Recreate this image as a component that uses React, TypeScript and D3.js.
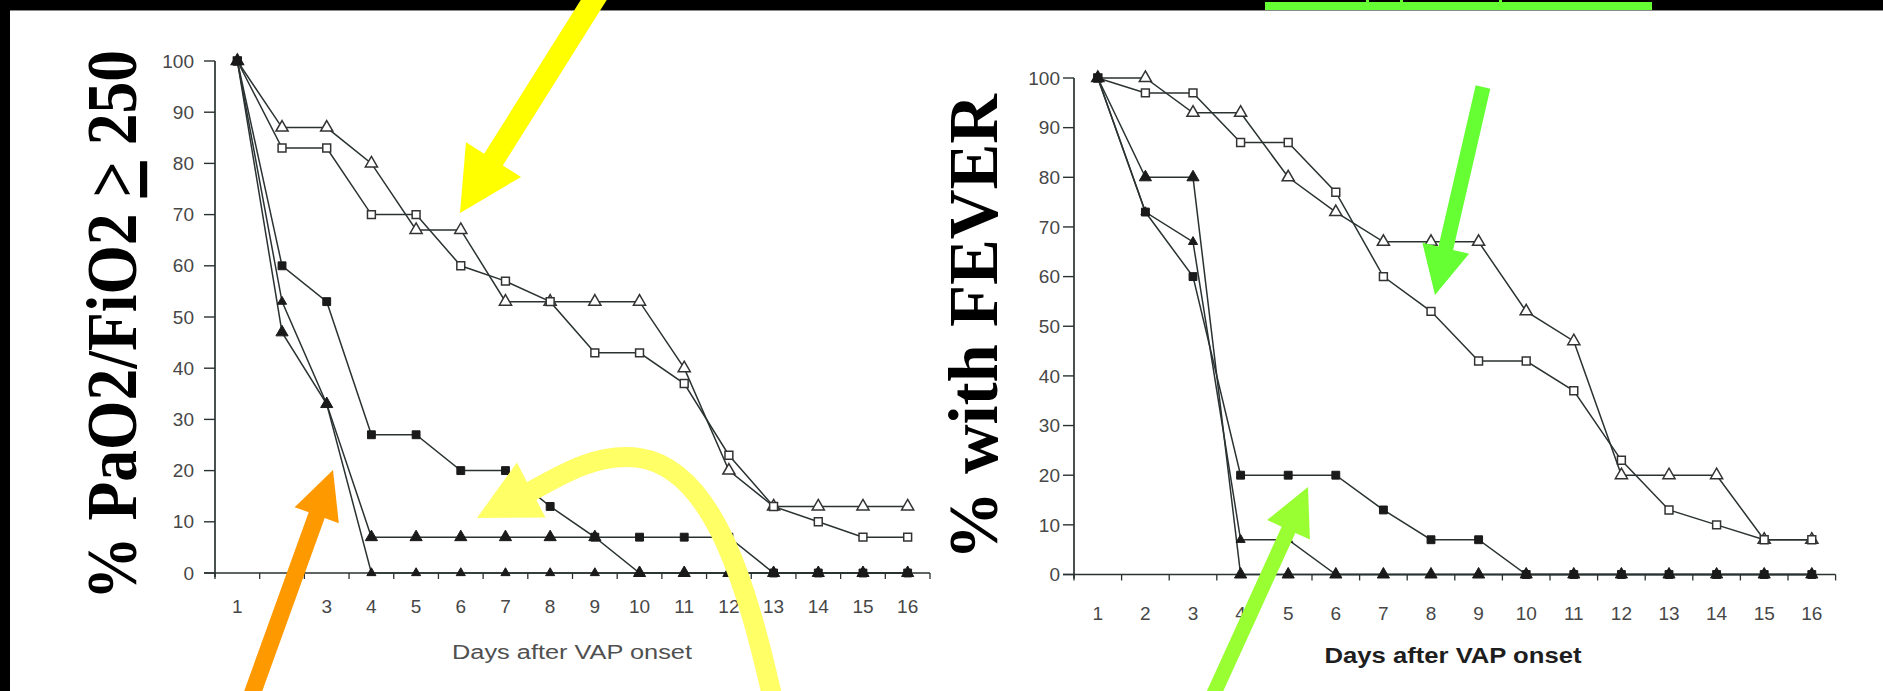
import React from 'react';
import * as d3 from 'd3';

// ---------- data ----------
const DAYS = [1, 2, 3, 4, 5, 6, 7, 8, 9, 10, 11, 12, 13, 14, 15, 16];
const Y_TICKS = [0, 10, 20, 30, 40, 50, 60, 70, 80, 90, 100];
const X_MINOR = [0.5, 1.5, 2.5, 3.5, 4.5, 5.5, 6.5, 7.5, 8.5, 9.5, 10.5, 11.5, 12.5, 13.5, 14.5, 15.5, 16.5];

// Left chart: % PaO2/FiO2 > 250
const pfOpenTriangle = [100, 87, 87, 80, 67, 67, 53, 53, 53, 53, 40, 20, 13, 13, 13, 13];
const pfOpenSquare = [100, 83, 83, 70, 70, 60, 57, 53, 43, 43, 37, 23, 13, 10, 7, 7];
const pfFilledSquare = [100, 60, 53, 27, 27, 20, 20, 13, 7, 7, 7, 7, 0, 0, 0, 0];
const pfFilledTriangle = [100, 47, 33, 7, 7, 7, 7, 7, 7, 0, 0, 0, 0, 0, 0, 0];
const pfFilledSmall = [100, 53, 33, 0, 0, 0, 0, 0, 0, 0, 0, 0, 0, 0, 0, 0];

// Right chart: % with FEVER
const feverOpenTriangle = [100, 100, 93, 93, 80, 73, 67, 67, 67, 53, 47, 20, 20, 20, 7, 7];
const feverOpenSquare = [100, 97, 97, 87, 87, 77, 60, 53, 43, 43, 37, 23, 13, 10, 7, 7];
const feverFilledSquare = [100, 73, 60, 20, 20, 20, 13, 7, 7, 0, 0, 0, 0, 0, 0, 0];
const feverFilledSmall = [100, 73, 67, 7, 7, 0, 0, 0, 0, 0, 0, 0, 0, 0, 0, 0];
const feverFilledTriangle = [100, 80, 80, 0, 0, 0, 0, 0, 0, 0, 0, 0, 0, 0, 0, 0];

const X_TITLE = 'Days after VAP onset';
const LEFT_TITLE_A = '% PaO2/FiO2 ';
const LEFT_TITLE_B = '>';
const LEFT_TITLE_C = ' 250';
const RIGHT_TITLE = '% with FEVER';

type Marker = 'openSquare' | 'openTriangle' | 'filledSquare' | 'filledTriangle' | 'filledSmall';

const leftSeries: { values: number[]; marker: Marker }[] = [
  { values: pfOpenTriangle, marker: 'openTriangle' },
  { values: pfOpenSquare, marker: 'openSquare' },
  { values: pfFilledSquare, marker: 'filledSquare' },
  { values: pfFilledTriangle, marker: 'filledTriangle' },
  { values: pfFilledSmall, marker: 'filledSmall' },
];
const rightSeries: { values: number[]; marker: Marker }[] = [
  { values: feverOpenTriangle, marker: 'openTriangle' },
  { values: feverOpenSquare, marker: 'openSquare' },
  { values: feverFilledSquare, marker: 'filledSquare' },
  { values: feverFilledSmall, marker: 'filledSmall' },
  { values: feverFilledTriangle, marker: 'filledTriangle' },
];

const W = 1883;
const H = 691;
const LINE = '#2a3232';
const TEXT = '#474747';

function symbolPath(m: Marker) {
  switch (m) {
    case 'openSquare':
    case 'filledSquare':
      return d3.symbol().type(d3.symbolSquare).size(62)()!;
    case 'openTriangle':
    case 'filledTriangle':
      return d3.symbol().type(d3.symbolTriangle).size(64)()!;
    default:
      return d3.symbol().type(d3.symbolTriangle).size(36)()!;
  }
}

function arrowPoints(tail: [number, number], tip: [number, number], sw: number, hw: number, hl: number) {
  const dx = tip[0] - tail[0];
  const dy = tip[1] - tail[1];
  const len = Math.hypot(dx, dy);
  const ux = dx / len, uy = dy / len;
  const px = -uy, py = ux;
  const bx = tip[0] - ux * hl, by = tip[1] - uy * hl;
  const pts = [
    [tail[0] + px * sw / 2, tail[1] + py * sw / 2],
    [bx + px * sw / 2, by + py * sw / 2],
    [bx + px * hw / 2, by + py * hw / 2],
    [tip[0], tip[1]],
    [bx - px * hw / 2, by - py * hw / 2],
    [bx - px * sw / 2, by - py * sw / 2],
    [tail[0] - px * sw / 2, tail[1] - py * sw / 2],
  ];
  return pts.map((p) => p.join(',')).join(' ');
}

interface PanelProps {
  series: { values: number[]; marker: Marker }[];
  xRange: [number, number];
  yRange: [number, number];
  yLabelX: number;
  xLabelBaseline: number;
  titleX: number;
  titleY: number;
  titleLen: number;
  titleBold: boolean;
  titleSize: number;
}

function Panel(p: PanelProps) {
  const x = d3.scaleLinear().domain([0.5, 16.5]).range(p.xRange);
  const y = d3.scaleLinear().domain([0, 100]).range(p.yRange);
  const x0 = x(0.5);
  const line = d3
    .line<number>()
    .x((_, i) => x(DAYS[i]))
    .y((v) => y(v));
  return (
    <g>
      {/* axes */}
      <line x1={x0} x2={x0} y1={y(100)} y2={y(0) + 4} stroke={LINE} strokeWidth={1.7} />
      <line x1={x0 - 11} x2={x(16.5)} y1={y(0)} y2={y(0)} stroke={LINE} strokeWidth={1.7} />
      {Y_TICKS.map((t) => (
        <g key={t}>
          <line x1={x0 - 11} x2={x0} y1={y(t)} y2={y(t)} stroke={LINE} strokeWidth={1.4} />
          <text
            x={p.yLabelX}
            y={y(t)}
            dy="0.35em"
            textAnchor="end"
            fontFamily="Liberation Sans, Arial, sans-serif"
            fontSize={19}
            fill={TEXT}
          >
            {t}
          </text>
        </g>
      ))}
      {X_MINOR.map((t) => (
        <line key={t} x1={x(t)} x2={x(t)} y1={y(0)} y2={y(0) + 6} stroke={LINE} strokeWidth={1.3} />
      ))}
      {DAYS.map((d) => (
        <text
          key={d}
          x={x(d)}
          y={p.xLabelBaseline}
          textAnchor="middle"
          fontFamily="Liberation Sans, Arial, sans-serif"
          fontSize={19}
          fill={TEXT}
        >
          {d}
        </text>
      ))}
      <text
        x={p.titleX}
        y={p.titleY}
        textAnchor="middle"
        fontFamily="Liberation Sans, Arial, sans-serif"
        fontSize={p.titleSize}
        fontWeight={p.titleBold ? 'bold' : 'normal'}
        fill={p.titleBold ? '#1e1e1e' : '#505050'}
        textLength={p.titleLen}
        lengthAdjust="spacingAndGlyphs"
      >
        {X_TITLE}
      </text>
      {/* series lines */}
      {p.series.map((s, i) => (
        <path key={'l' + i} d={line(s.values)!} fill="none" stroke={LINE} strokeWidth={1.5} />
      ))}
      {/* markers */}
      {p.series.map((s, i) => (
        <g key={'m' + i}>
          {s.values.map((v, j) => {
            const open = s.marker.startsWith('open');
            return (
              <path
                key={j}
                d={symbolPath(s.marker)}
                transform={`translate(${x(DAYS[j])},${y(v)})`}
                fill={open ? '#ffffff' : '#1a1a1a'}
                stroke={open ? '#333' : '#1a1a1a'}
                strokeWidth={open ? 1.5 : 1}
              />
            );
          })}
        </g>
      ))}
    </g>
  );
}

export default function App() {
  React.useEffect(() => {
    document.body.style.margin = '0';
  }, []);
  return (
    <svg
      width={W}
      height={H}
      viewBox={`0 0 ${W} ${H}`}
      style={{ position: 'absolute', left: 0, top: 0, display: 'block', background: '#fff' }}
    >
      <rect x={0} y={0} width={W} height={H} fill="#ffffff" />
      {/* black frame */}
      <rect x={0} y={0} width={W} height={10} fill="#000" />
      <line x1={0} x2={W} y1={10.5} y2={10.5} stroke="#8a8a8a" strokeWidth={1} />
      <rect x={0} y={0} width={10} height={H} fill="#000" />
      {/* green box fragment at top */}
      <rect x={1265} y={2} width={387} height={8} fill="#66ff33" />
      {[1366, 1400, 1499].map((gx) => (
        <rect key={gx} x={gx} y={0} width={3} height={3} fill="#66ff33" />
      ))}

      <Panel
        series={leftSeries}
        xRange={[215, 930]}
        yRange={[573, 61]}
        yLabelX={194}
        xLabelBaseline={613}
        titleX={572}
        titleY={659}
        titleLen={240}
        titleBold={false}
        titleSize={20}
      />
      <Panel
        series={rightSeries}
        xRange={[1074, 1835.6]}
        yRange={[574.5, 78]}
        yLabelX={1060}
        xLabelBaseline={620}
        titleX={1453}
        titleY={663}
        titleLen={257}
        titleBold={true}
        titleSize={22}
      />

      {/* y titles */}
      <text
        transform="translate(136,325) rotate(-90)"
        textAnchor="middle"
        fontFamily="Liberation Serif, Times New Roman, serif"
        fontWeight="bold"
        fontSize={72}
        fill="#000"
        textLength={550}
        lengthAdjust="spacingAndGlyphs"
      >
        {LEFT_TITLE_A}
        <tspan textDecoration="underline">{LEFT_TITLE_B}</tspan>
        {LEFT_TITLE_C}
      </text>
      <text
        transform="translate(997,327) rotate(-90)"
        textAnchor="middle"
        fontFamily="Liberation Serif, Times New Roman, serif"
        fontWeight="bold"
        fontSize={70}
        fill="#000"
        textLength={466}
        lengthAdjust="spacingAndGlyphs"
      >
        {RIGHT_TITLE}
      </text>

      {/* arrows */}
      <polygon points={arrowPoints([600, -10], [460, 213], 22, 65, 63)} fill="#ffff00" />
      <polygon points={arrowPoints([250, 700], [333, 470], 17, 47, 48)} fill="#ff9900" />
      <path
        d="M 773 700 C 748 590, 715 470, 640 458 C 600 452, 565 472, 528 493"
        fill="none"
        stroke="#ffff66"
        strokeWidth={20}
      />
      <polygon points={arrowPoints([560, 475], [477, 518], 0, 62, 61)} fill="#ffff66" />
      <polygon points={arrowPoints([1483, 87], [1435, 295], 15, 48, 48)} fill="#66ff33" />
      <polygon points={arrowPoints([1211, 700], [1308, 487], 15, 47, 47)} fill="#99ff33" />
    </svg>
  );
}
